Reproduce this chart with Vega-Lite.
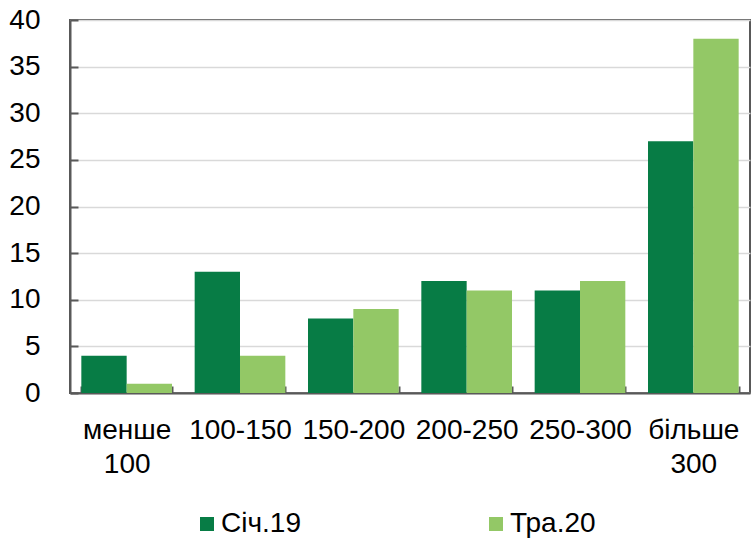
{
  "$schema": "https://vega.github.io/schema/vega-lite/v6.json",
  "width": 680,
  "height": 373,
  "autosize": {"type": "none"},
  "padding": {"left": 70, "top": 20, "right": 1, "bottom": 146},
  "background": "white",
  "config": {
    "font": "Liberation Sans",
    "view": {"stroke": "#595959", "strokeWidth": 2}
  },
  "data": {
    "values": [
      {"cat": "менше 100", "series": "Січ.19", "value": 4},
      {"cat": "менше 100", "series": "Тра.20", "value": 1},
      {"cat": "100-150", "series": "Січ.19", "value": 13},
      {"cat": "100-150", "series": "Тра.20", "value": 4},
      {"cat": "150-200", "series": "Січ.19", "value": 8},
      {"cat": "150-200", "series": "Тра.20", "value": 9},
      {"cat": "200-250", "series": "Січ.19", "value": 12},
      {"cat": "200-250", "series": "Тра.20", "value": 11},
      {"cat": "250-300", "series": "Січ.19", "value": 11},
      {"cat": "250-300", "series": "Тра.20", "value": 12},
      {"cat": "більше 300", "series": "Січ.19", "value": 27},
      {"cat": "більше 300", "series": "Тра.20", "value": 38}
    ]
  },
  "mark": {"type": "bar"},
  "encoding": {
    "x": {
      "field": "cat",
      "type": "nominal",
      "sort": null,
      "scale": {"paddingInner": 0.2, "paddingOuter": 0.1},
      "axis": {
        "title": null,
        "labelAngle": 0,
        "labelFontSize": 28,
        "labelColor": "black",
        "labelPadding": 30,
        "labelLineHeight": 34,
        "labelLimit": 200,
        "labelExpr": "split(datum.label, ' ')",
        "domainColor": "#595959",
        "domainWidth": 2,
        "tickColor": "#595959",
        "tickWidth": 2,
        "tickSize": -7,
        "tickBand": "extent",
        "grid": false
      }
    },
    "xOffset": {"field": "series", "type": "nominal"},
    "y": {
      "field": "value",
      "type": "quantitative",
      "scale": {"domain": [0, 40], "nice": false},
      "axis": {
        "title": null,
        "values": [0, 5, 10, 15, 20, 25, 30, 35, 40],
        "labelFontSize": 28,
        "labelColor": "black",
        "labelPadding": 38,
        "domainColor": "#595959",
        "domainWidth": 2,
        "tickColor": "#595959",
        "tickWidth": 2,
        "tickSize": -8,
        "gridColor": "#d9d9d9",
        "gridWidth": 1.5
      }
    },
    "color": {
      "field": "series",
      "type": "nominal",
      "scale": {"domain": ["Січ.19", "Тра.20"], "range": ["#077c45", "#93c866"]},
      "legend": {
        "title": null,
        "orient": "none",
        "legendX": 123,
        "legendY": 490,
        "direction": "horizontal",
        "symbolType": "square",
        "symbolSize": 196,
        "symbolStrokeWidth": 0,
        "labelFontSize": 28,
        "labelColor": "black",
        "labelOffset": 0,
        "labelLimit": 200,
        "columnPadding": 181
      }
    }
  }
}
